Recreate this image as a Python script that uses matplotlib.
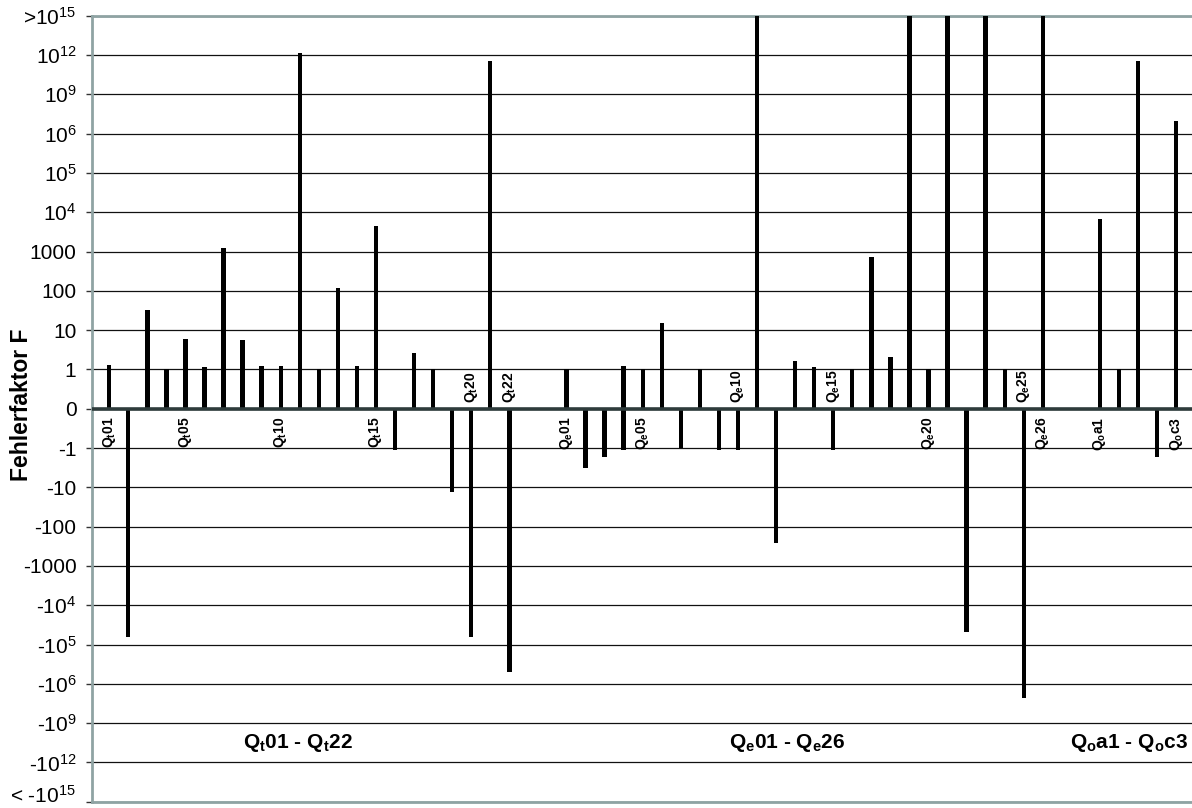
import numpy as np
import matplotlib
matplotlib.use("Agg")
import matplotlib.pyplot as plt
from matplotlib.ticker import FixedLocator, NullLocator
from matplotlib.transforms import ScaledTranslation

plt.rcParams['font.family'] = ['Liberation Sans', 'DejaVu Sans']
plt.rcParams['mathtext.fontset'] = 'custom'
plt.rcParams['mathtext.rm'] = 'Liberation Sans'
plt.rcParams['mathtext.it'] = 'Liberation Sans:italic'
plt.rcParams['mathtext.bf'] = 'Liberation Sans:bold'
plt.rcParams['mathtext.default'] = 'regular'

# ---------------- data ----------------
qt_labels = ['01', '02', '03', '04', '05', '06', '07', '08', '09', '10', '11',
             '12', '13', '14', '15', '16', '17', '18', '19', '20', '21', '22']
qt_pos = [1.3, 0, 32, 1.0, 6.0, 1.12, 1220, 5.7, 1.2, 1.2, 1.5e12,
          1.0, 117, 1.2, 4400, 0, 2.6, 1.0, 0, 0, 3.5e11, 0]
qt_neg = [0, -6.5e4, 0, 0, 0, 0, 0, 0, 0, 0, 0,
          0, 0, 0, 0, -1.1, 0, 0, -13.5, -6.5e4, 0, -4.9e5]

qe_labels = ['01', '02', '03', '04', '05', '06', '07', '08', '09', '10', '11', '12', '13',
             '14', '15', '16', '17', '18', '19', '20', '21', '22', '23', '24', '25', '26']
qe_pos = [1.0, 0, 0, 1.19, 1.0, 15, 0, 1.0, 0, 0, 1e15, 0, 1.6,
          1.12, 0, 1.0, 720, 2.1, 1e15, 1.0, 1e15, 0, 1e15, 1.0, 0, 1e15]
qe_neg = [0, -3.3, -1.7, -1.15, 0, 0, -1.0, 0, -1.1, -1.15, 0, -260, 0,
          0, -1.1, 0, 0, 0, 0, 0, 0, -4.8e4, 0, 0, -1.2e7, 0]

qo_labels = ['a1', 'a2', 'b1', 'c2', 'c3']
qo_pos = [6600, 1.0, 3.4e11, 0, 9.4e6]
qo_neg = [0, 0, 0, -1.7, 0]

# category labels that are printed on the chart
shown = {'t': ['01', '05', '10', '15', '20', '22'],
         'e': ['01', '05', '10', '15', '20', '25', '26'],
         'o': ['a1', 'c3']}

group_titles = [r'Q$_\mathbf{t}$01 - Q$_\mathbf{t}$22',
                r'Q$_\mathbf{e}$01 - Q$_\mathbf{e}$26',
                r'Q$_\mathbf{o}$a1 - Q$_\mathbf{o}$c3']
group_title_x = [9.88, 35.56, 53.5]

ytick_values = [1e15, 1e12, 1e9, 1e6, 1e5, 1e4, 1000, 100, 10, 1, 0,
                -1, -10, -100, -1000, -1e4, -1e5, -1e6, -1e9, -1e12, -1e15]
ytick_labels = ['>$10^{15}$', '$10^{12}$', '$10^{9}$', '$10^{6}$', '$10^{5}$', '$10^{4}$',
                '1000', '100', '10', '1', '0', '-1', '-10', '-100', '-1000',
                '-$10^{4}$', '-$10^{5}$', '-$10^{6}$', '-$10^{9}$', '-$10^{12}$',
                '< -$10^{15}$']


# -------------- piecewise scale --------------
def forward(v):
    v = np.asarray(v, dtype=float)
    a = np.abs(v)
    s = np.sign(v)
    lg = np.log10(np.clip(a, 1.0, None))
    lvl = np.where(a <= 1, a, np.where(a <= 1e6, 1 + lg, 7 + (lg - 6) / 3.0))
    return s * lvl


def inverse(l):
    l = np.asarray(l, dtype=float)
    a = np.abs(l)
    s = np.sign(l)
    val = np.where(a <= 1, a,
                   np.where(a <= 7, 10 ** (np.clip(a, 1, 7) - 1),
                            10 ** (6 + 3 * (np.clip(a, 7, None) - 7))))
    return s * val


# -------------- layout of slots --------------
groups = [('t', qt_labels, qt_pos, qt_neg),
          ('e', qe_labels, qe_pos, qe_neg),
          ('o', qo_labels, qo_pos, qo_neg)]
gap = 2

fig = plt.figure(figsize=(11.92, 8.08), dpi=100)
ax = fig.add_axes([91.7 / 1192, (808 - 801.7) / 808, (1192 - 91.7) / 1192, (801.7 - 15.7) / 808])
ax.set_yscale('function', functions=(forward, inverse))
ax.set_ylim(-1e15, 1e15)

start = 0
for g, labs, pos, neg in groups:
    x = np.arange(start, start + len(labs))
    ax.bar(x, pos, width=0.23, color='black', zorder=3, linewidth=0)
    ax.bar(x, neg, width=0.23, color='black', zorder=3, linewidth=0)
    for xi, lab, p, n in zip(x, labs, pos, neg):
        if lab in shown[g]:
            txt = r'Q$_\mathbf{%s}$%s' % (g, lab)
            if n != 0 and p == 0:
                ax.annotate(txt, (xi, 0), xytext=(0, 4), textcoords='offset points',
                            rotation=90, ha='center', va='bottom', fontsize=10,
                            fontweight='bold', zorder=5)
            else:
                ax.annotate(txt, (xi, 0), xytext=(0, -5.5), textcoords='offset points',
                            rotation=90, ha='center', va='top', fontsize=10,
                            fontweight='bold', zorder=5)
    start += len(labs) + gap

ax.set_xlim(-0.92, 56.83)
ax.set_xticks([])

for t, xpos in zip(group_titles, group_title_x):
    ax.text(xpos, -10 ** 10.5, t, ha='center', va='center', fontsize=15,
            fontweight='bold', zorder=5)

ax.yaxis.set_major_locator(FixedLocator(ytick_values))
ax.yaxis.set_minor_locator(NullLocator())
ax.set_yticklabels(ytick_labels, fontsize=15)
ax.tick_params(axis='y', length=4, width=1, color='#333333', pad=7)
# keep the lowest tick label inside the figure
last = ax.get_yticklabels()[-1]
last.set_transform(last.get_transform() + ScaledTranslation(0, 6 / 72, fig.dpi_scale_trans))

ax.set_axisbelow(True)
ax.grid(axis='y', color='#111111', linewidth=0.9)
ax.axhline(0, color='#2e3b3b', linewidth=2.6, zorder=4)

for side in ['top', 'left', 'bottom']:
    ax.spines[side].set_color('#8fa3a3')
    ax.spines[side].set_linewidth(2)
ax.spines['right'].set_visible(False)

fig.text(22 / 1192, 1 - 405 / 808, 'Fehlerfaktor F', rotation=90, ha='center', va='center',
         fontsize=16.5, fontweight='bold')

fig.savefig('out.png', dpi=100)
